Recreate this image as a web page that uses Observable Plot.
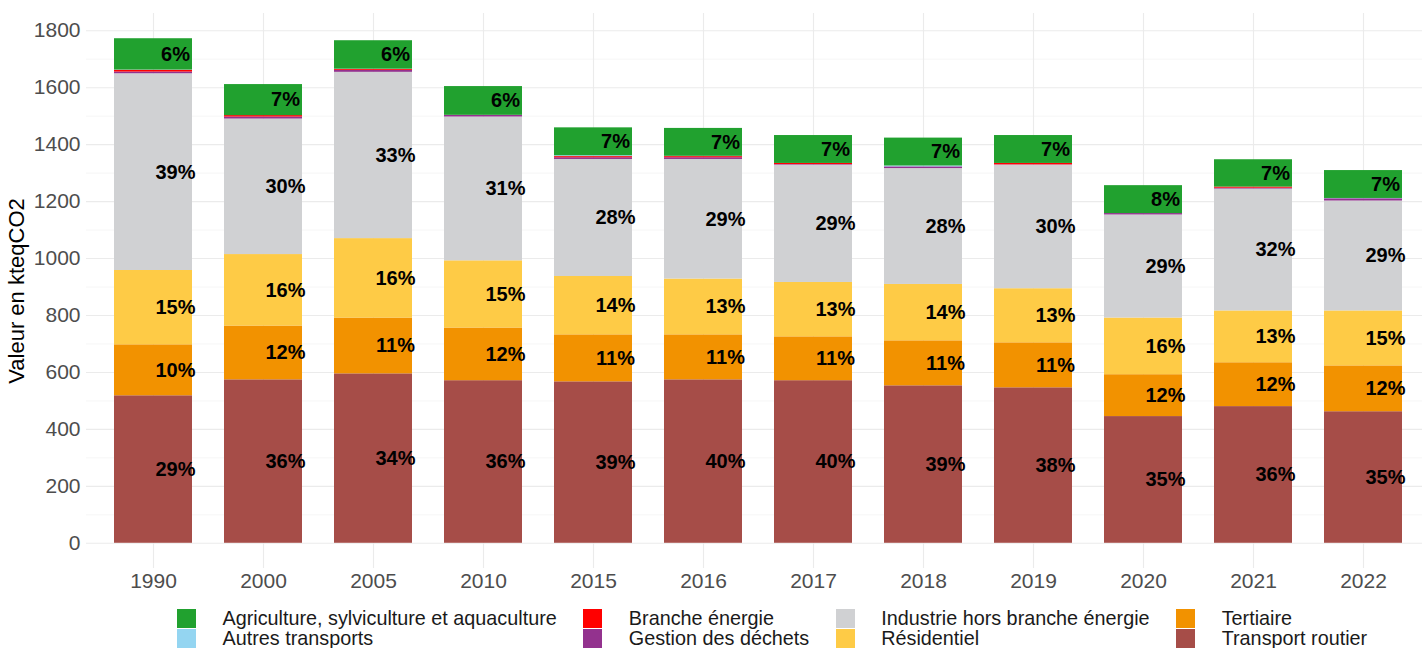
<!DOCTYPE html>
<html>
<head>
<meta charset="utf-8">
<script src="https://cdn.jsdelivr.net/npm/d3@7"></script>
<script src="https://cdn.jsdelivr.net/npm/@observablehq/plot@0.6"></script>
<style>
  html, body { margin: 0; padding: 0; background: #fff; }
  body { width: 1422px; height: 648px; overflow: hidden; font-family: "Liberation Sans", Arial, sans-serif; }
  #legend { display: flex; flex-direction: row; padding-left: 177px; padding-top: 10px; column-gap: 26.6px; }
  .col { display: flex; flex-direction: column; }
  .item { display: flex; align-items: center; height: 20px; font-size: 19.8px; color: #1a1a1a; white-space: nowrap; }
  .key { width: 19px; height: 19px; margin-right: 26.5px; flex: none; }
</style>
</head>
<body>
<div id="chart"></div>
<div id="legend"></div>
<script>
const years = ["1990","2000","2005","2010","2015","2016","2017","2018","2019","2020","2021","2022"];

const sectors = [
  "Agriculture, sylviculture et aquaculture",
  "Autres transports",
  "Branche énergie",
  "Gestion des déchets",
  "Industrie hors branche énergie",
  "Résidentiel",
  "Tertiaire",
  "Transport routier"
];
const colors = ["#21A12F", "#94D5F1", "#FF0000", "#93328E", "#D0D1D3", "#FECB46", "#F29200", "#A64D48"];

// values in kteqCO2
const transportRoutier = [518, 574, 595, 571, 567, 574, 571, 553, 546, 445, 480, 462];
const tertiaire        = [179, 189, 196, 185, 165, 158, 154, 158, 158, 147, 154, 161];
const residentiel      = [261, 251, 279, 236, 205, 196, 191, 198, 190, 199, 182, 193];
const industrie        = [691, 476, 584, 505, 411, 420, 412, 407, 434, 362, 428, 386];
const gestionDechets   = [6, 7, 7, 6, 6, 6, 2, 6, 1, 5, 3, 8];
const brancheEnergie   = [6, 5, 3, 0, 4, 4, 4, 0, 5, 0, 4, 0];
const autresTransports = [1, 0, 1, 0, 3, 1, 0, 3, 0, 0, 0, 1];
const agriculture      = [110, 109, 100, 101, 98, 98, 98, 98, 98, 98, 96, 98];

// percentage labels
const pctTransport   = ["29%","36%","34%","36%","39%","40%","40%","39%","38%","35%","36%","35%"];
const pctTertiaire   = ["10%","12%","11%","12%","11%","11%","11%","11%","11%","12%","12%","12%"];
const pctResidentiel = ["15%","16%","16%","15%","14%","13%","13%","14%","13%","16%","13%","15%"];
const pctIndustrie   = ["39%","30%","33%","31%","28%","29%","29%","28%","30%","29%","32%","29%"];
const pctAgriculture = ["6%","7%","6%","6%","7%","7%","7%","7%","7%","8%","7%","7%"];

const yTicks = [0, 200, 400, 600, 800, 1000, 1200, 1400, 1600, 1800];
const yMinor = [100, 300, 500, 700, 900, 1100, 1300, 1500, 1700];

// stacking order bottom -> top
const layers = [
  ["Transport routier", transportRoutier, pctTransport],
  ["Tertiaire", tertiaire, pctTertiaire],
  ["Résidentiel", residentiel, pctResidentiel],
  ["Industrie hors branche énergie", industrie, pctIndustrie],
  ["Gestion des déchets", gestionDechets, null],
  ["Branche énergie", brancheEnergie, null],
  ["Autres transports", autresTransports, null],
  ["Agriculture, sylviculture et aquaculture", agriculture, pctAgriculture]
];
const rows = [];
years.forEach((yr, i) => {
  layers.forEach(([name, vals, pcts]) => {
    rows.push({year: yr, sector: name, value: vals[i], pct: pcts ? pcts[i] : ""});
  });
});

const totalsMax = d3.max(years.map((_, i) => layers.reduce((s, l) => s + l[1][i], 0)));
const expand = totalsMax * 0.05;

const chart = Plot.plot({
  width: 1422,
  height: 598,
  marginLeft: 86,
  marginRight: 0,
  marginTop: 13,
  marginBottom: 30,
  style: {fontFamily: "'Liberation Sans', Arial, sans-serif", background: "#fff"},
  x: {domain: years, range: [86, 1430], paddingInner: 0.29, paddingOuter: 0.245},
  y: {domain: [-expand, totalsMax + expand]},
  color: {domain: sectors, range: colors},
  marks: [
    Plot.ruleY(yMinor, {stroke: "#F4F4F4", strokeWidth: 0.8}),
    Plot.ruleY(yTicks, {stroke: "#EBEBEB", strokeWidth: 1.1}),
    Plot.ruleX(years, {x: d => d, stroke: "#EBEBEB", strokeWidth: 1.1}),
    Plot.barY(rows, Plot.stackY({x: "year", y: "value", fill: "sector", order: null})),
    Plot.text(rows, Plot.stackY({x: "year", y: "value", text: "pct", order: null,
      dx: 22, fontSize: 20, fontWeight: "bold", fill: "#000"})),
    Plot.axisY({ticks: yTicks, tickFormat: d => String(d), tickSize: 0, tickPadding: 6, fontSize: 21, color: "#4D4D4D",
      label: "Valeur en kteqCO2", labelAnchor: "center", labelArrow: "none", labelOffset: 78}),
    Plot.axisX({tickSize: 0, tickPadding: 5, fontSize: 21, color: "#4D4D4D", label: null})
  ]
});
document.getElementById("chart").appendChild(chart);

// style the y-axis title
chart.querySelectorAll("g[aria-label='y-axis label'] text").forEach(t => {
  t.setAttribute("fill", "#000");
  t.style.fontSize = "22px";
});

// legend: 2 rows, filled by column
const legend = document.getElementById("legend");
for (let c = 0; c < 4; c++) {
  const col = document.createElement("div");
  col.className = "col";
  for (let r = 0; r < 2; r++) {
    const k = c * 2 + r;
    const item = document.createElement("div");
    item.className = "item";
    const key = document.createElement("span");
    key.className = "key";
    key.style.background = colors[k];
    const label = document.createElement("span");
    label.textContent = sectors[k];
    item.appendChild(key);
    item.appendChild(label);
    col.appendChild(item);
  }
  legend.appendChild(col);
}
</script>
</body>
</html>
